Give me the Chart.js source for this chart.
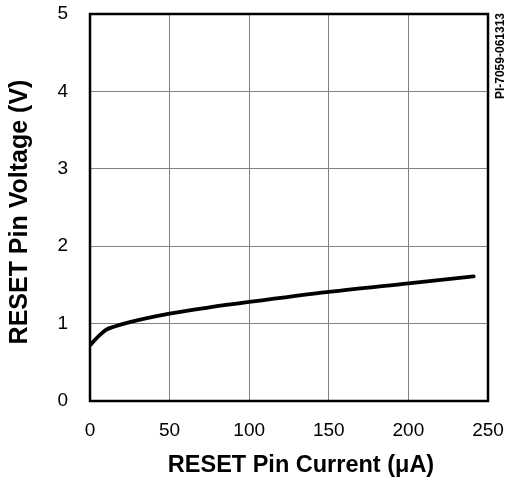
<!DOCTYPE html>
<html>
<head>
<meta charset="utf-8">
<script src="https://cdn.jsdelivr.net/npm/chart.js@4/dist/chart.umd.min.js"></script>
<style>
  html, body { margin: 0; padding: 0; background: #fff; }
  #wrap { width: 507px; height: 484px; }
</style>
</head>
<body>
<div id="wrap"><canvas id="myChart"></canvas></div>
<script>
// RESET pin current (uA) vs voltage (V)
const currentUA = [0, 5, 10, 15, 25, 50, 75, 100, 150, 200, 241];
const voltageV = [0.72, 0.83, 0.92, 0.96, 1.02, 1.13, 1.21, 1.28, 1.41, 1.52, 1.61];

const xTitle = "RESET Pin Current (\u03BCA)";
const yTitle = "RESET Pin Voltage (V)";
const partLabel = "PI-7059-061313";

const FONT = "'Liberation Sans', Arial, Helvetica, sans-serif";

// frame around the plot, axis titles and the rotated part number
const framePlugin = {
  id: "frame",
  afterDraw(chart) {
    const { ctx, chartArea: a } = chart;
    ctx.save();
    ctx.strokeStyle = "#000";
    ctx.lineWidth = 2.5;
    ctx.strokeRect(a.left, a.top, a.right - a.left, a.bottom - a.top);

    ctx.fillStyle = "#000";
    ctx.textAlign = "center";
    ctx.textBaseline = "middle";
    ctx.font = "bold 23.5px " + FONT;
    ctx.fillText(xTitle, 301, 466);

    ctx.save();
    ctx.translate(20, 212);
    ctx.rotate(-Math.PI / 2);
    ctx.font = "bold 25px " + FONT;
    ctx.fillText(yTitle, 0, 0);
    ctx.restore();

    ctx.translate(501, 13);
    ctx.rotate(-Math.PI / 2);
    ctx.font = "bold 12px " + FONT;
    ctx.textAlign = "right";
    ctx.fillText(partLabel, 0, 0);
    ctx.restore();
  }
};

const points = currentUA.map((x, i) => ({ x, y: voltageV[i] }));

new Chart(document.getElementById("myChart"), {
  type: "scatter",
  data: {
    datasets: [{
      data: points,
      showLine: true,
      borderColor: "#000",
      borderWidth: 3.8,
      pointRadius: 0,
      cubicInterpolationMode: "monotone",
      borderCapStyle: "round"
    }]
  },
  options: {
    responsive: true,
    maintainAspectRatio: false,
    animation: false,
    layout: { padding: { top: 14, right: 19, left: 0, bottom: 0 } },
    plugins: { legend: { display: false }, tooltip: { enabled: false } },
    scales: {
      x: {
        type: "linear",
        min: 0,
        max: 250,
        ticks: { stepSize: 50, color: "#000", padding: 18, font: { family: FONT, size: 19 } },
        grid: { color: "#808080", lineWidth: 1, drawTicks: false },
        border: { display: false },
        afterFit(scale) {
          scale.height = 83;
          scale.paddingLeft = 0;
          scale.paddingRight = 0;
        }
      },
      y: {
        min: 0,
        max: 5,
        ticks: { stepSize: 1, color: "#000", padding: 22, font: { family: FONT, size: 19 } },
        grid: { color: "#808080", lineWidth: 1, drawTicks: false },
        border: { display: false },
        afterFit(scale) {
          scale.width = 90;
          scale.paddingTop = 0;
          scale.paddingBottom = 0;
        }
      }
    }
  },
  plugins: [framePlugin]
});
</script>
</body>
</html>
